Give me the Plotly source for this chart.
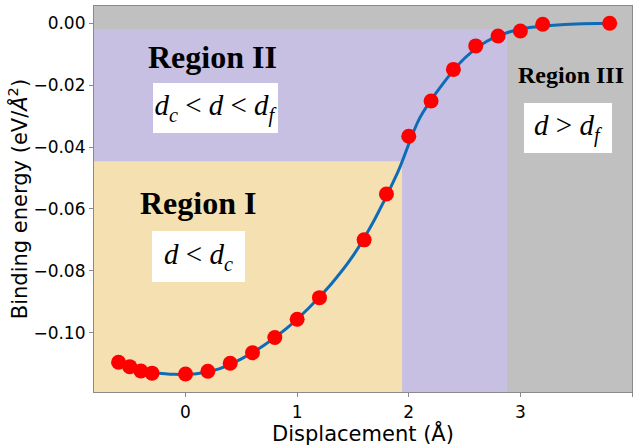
import plotly.graph_objects as go

# Computed binding energies (eV/Å^2) versus interlayer displacement (Å)
disp = [-0.6, -0.5, -0.4, -0.3, 0.0, 0.2, 0.4, 0.6, 0.8, 1.0, 1.2,
        1.6, 1.8, 2.0, 2.2, 2.4, 2.6, 2.8, 3.0, 3.2, 3.8]
energy = [-0.1096, -0.1110, -0.1124, -0.1131, -0.1134, -0.1125, -0.1099,
          -0.1065, -0.1016, -0.0957, -0.0887, -0.0700, -0.0552, -0.0365,
          -0.0251, -0.0149, -0.0073, -0.0041, -0.0025, -0.0003, 0.0]

# Fitted curve through the computed points
fit_x = [-0.3, -0.1, 0.1, 0.3, 0.5, 0.7, 0.9, 1.1, 1.3, 1.5, 1.7, 1.9,
         2.1, 2.3, 2.5, 2.7, 2.9, 3.1, 3.3, 3.5, 3.8]
fit_y = [-0.1130, -0.1135, -0.1133, -0.1117, -0.1085, -0.1042, -0.0988,
         -0.0922, -0.0845, -0.0752, -0.0630, -0.0483, -0.0305, -0.0198,
         -0.0113, -0.0058, -0.0028, -0.0013, -0.0006, -0.0002, 0.0]

# Region boundaries
d_c = 1.94
d_f = 2.88
e_c = -0.0446
e_f = -0.0018

x_range = [-0.82, 4.0]
y_range = [-0.1192, 0.0056]

x_ticks = [0, 1, 2, 3, 4]
y_ticks = [0.0, -0.02, -0.04, -0.06, -0.08, -0.10]

GRAY = "#C0C0C0"
PURPLE = "#C8C0E3"
TAN = "#F4E0B1"

fig = go.Figure()

fig.add_trace(go.Scatter(
    x=fit_x, y=fit_y, mode="lines", line=dict(color="#0E6BB6", width=3, shape="spline"),
    showlegend=False, hoverinfo="skip"))
fig.add_trace(go.Scatter(
    x=disp, y=energy, mode="markers",
    marker=dict(color="#FF0000", size=15, line=dict(width=0)),
    showlegend=False))

# Shaded regions
fig.add_shape(type="rect", layer="below", line=dict(width=0), fillcolor=PURPLE,
              xref="x", yref="y", x0=x_range[0], x1=d_f, y0=y_range[0], y1=e_f)
fig.add_shape(type="rect", layer="below", line=dict(width=0), fillcolor=TAN,
              xref="x", yref="y", x0=x_range[0], x1=d_c, y0=y_range[0], y1=e_c)

serif = "Liberation Serif"
labels = [
    ("Region II", 0.238, -0.0109, 32),
    ("Region I", 0.108, -0.0580, 32),
    ("Region III", 3.451, -0.0168, 24),
]
for text, x, y, size in labels:
    fig.add_annotation(x=x, y=y, xref="x", yref="y", text="<b>%s</b>" % text,
                       showarrow=False, xanchor="center", yanchor="middle",
                       font=dict(family=serif, size=size, color="black"))

boxes = [
    ("<i>d</i><sub><i>c</i></sub> &lt; <i>d</i> &lt; <i>d</i><sub><i>f</i></sub>",
     0.269, -0.0274, 125, 50),
    ("<i>d</i> &lt; <i>d</i><sub><i>c</i></sub>", 0.115, -0.0754, 93, 51),
    ("<i>d</i> &gt; <i>d</i><sub><i>f</i></sub>", 3.43, -0.0337, 88, 50),
]
for text, x, y, w, h in boxes:
    fig.add_annotation(x=x, y=y, xref="x", yref="y", text=text, showarrow=False,
                       xanchor="center", yanchor="middle", width=w - 2, height=h - 2,
                       bgcolor="white", borderpad=1, borderwidth=0,
                       font=dict(family=serif, size=29, color="black"))

axis_common = dict(
    showgrid=False, zeroline=False, showline=True, mirror=True,
    linecolor="#8A8A8A", linewidth=1.2, ticks="outside", ticklen=4,
    tickcolor="#8A8A8A", tickfont=dict(family="DejaVu Sans", size=17, color="black"),
)

fig.update_xaxes(range=x_range, tickvals=x_ticks, ticktext=[str(t) for t in x_ticks],
                 title=dict(text="Displacement (Å)", standoff=2,
                            font=dict(family="DejaVu Sans", size=21, color="black")),
                 **axis_common)
fig.update_yaxes(range=y_range, tickvals=y_ticks, tickformat=".2f",
                 title=dict(text="Binding energy (eV/<i>Å</i><sup>2</sup>)", standoff=0,
                            font=dict(family="DejaVu Sans", size=21, color="black")),
                 **axis_common)

fig.update_layout(
    width=635, height=446,
    margin=dict(l=94, r=3, t=6, b=54),
    paper_bgcolor="white", plot_bgcolor=GRAY,
)

fig.write_html("out.html")
